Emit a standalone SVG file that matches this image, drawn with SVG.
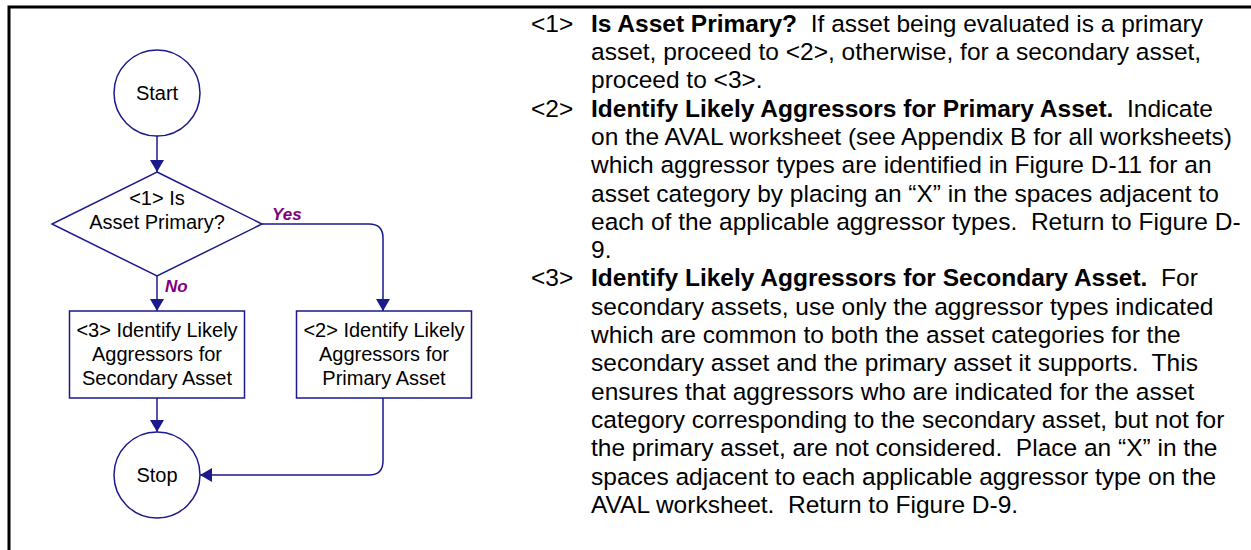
<svg xmlns="http://www.w3.org/2000/svg" width="1251" height="550" viewBox="0 0 1251 550">
<style>
.sh{fill:#fff;stroke:#1a1a8c;stroke-width:1.5}
.ft{font-family:"Liberation Sans",Arial,sans-serif;font-size:20px;fill:#000;text-anchor:middle}
.lb{font-family:"Liberation Sans",Arial,sans-serif;font-size:17px;font-weight:bold;font-style:italic;fill:#800080}
.cn{fill:none;stroke:#1a1a8c;stroke-width:1.5}
.rt{font-family:"Liberation Sans",Arial,sans-serif;font-size:24.5px;fill:#000}
.b{font-weight:bold}
</style>
<defs>
<marker id="ah" markerUnits="userSpaceOnUse" markerWidth="13" markerHeight="14" refX="12" refY="7" orient="auto">
<path d="M0,0 L12,7 L0,14 z" fill="#1a1a8c"/>
</marker>
</defs>
<path d="M9,551 V7 H1252" fill="none" stroke="#000" stroke-width="3"/>
<g id="connectors">
<path class="cn" d="M157,136 V172" marker-end="url(#ah)"/>
<path class="cn" d="M157,276 V311" marker-end="url(#ah)"/>
<path class="cn" d="M262,224 H369 Q383,224 383,238 V311" marker-end="url(#ah)"/>
<path class="cn" d="M157,398 V432" marker-end="url(#ah)"/>
<path class="cn" d="M383,398 V461 Q383,475 369,475 H200" marker-end="url(#ah)"/>
<text class="lb" x="272" y="220">Yes</text>
<text class="lb" x="165" y="292">No</text>
</g>
<g id="start">
<circle class="sh" cx="157" cy="93" r="43"/>
<text class="ft" x="157" y="100">Start</text>
</g>
<g id="decision1">
<path class="sh" d="M157,172 L262,224 L157,276 L52,224 z"/>
<text class="ft" x="157" y="205">&lt;1&gt; Is</text>
<text class="ft" x="157" y="229">Asset Primary?</text>
</g>
<g id="step3">
<rect class="sh" x="69.5" y="311" width="175" height="87"/>
<text class="ft" x="157" y="337">&lt;3&gt; Identify Likely</text>
<text class="ft" x="157" y="361">Aggressors for</text>
<text class="ft" x="157" y="385">Secondary Asset</text>
</g>
<g id="step2">
<rect class="sh" x="296.5" y="311" width="175" height="87"/>
<text class="ft" x="384" y="337">&lt;2&gt; Identify Likely</text>
<text class="ft" x="384" y="361">Aggressors for</text>
<text class="ft" x="384" y="385">Primary Asset</text>
</g>
<g id="stop">
<circle class="sh" cx="157" cy="475" r="43"/>
<text class="ft" x="157" y="482">Stop</text>
</g>
<g id="notes" class="rt">
<text x="531" y="31.7">&lt;1&gt;</text>
<text x="591" y="31.7" xml:space="preserve"><tspan class="b">Is Asset Primary?</tspan>  If asset being evaluated is a primary</text>
<text x="591" y="60">asset, proceed to &lt;2&gt;, otherwise, for a secondary asset,</text>
<text x="591" y="88.3">proceed to &lt;3&gt;.</text>
<text x="531" y="116.6">&lt;2&gt;</text>
<text x="591" y="116.6" xml:space="preserve"><tspan class="b">Identify Likely Aggressors for Primary Asset.</tspan>  Indicate</text>
<text x="591" y="144.9">on the AVAL worksheet (see Appendix B for all worksheets)</text>
<text x="591" y="173.2">which aggressor types are identified in Figure D-11 for an</text>
<text x="591" y="201.5">asset category by placing an “X” in the spaces adjacent to</text>
<text x="591" y="229.8" xml:space="preserve">each of the applicable aggressor types.  Return to Figure D-</text>
<text x="591" y="258.1">9.</text>
<text x="531" y="286.4">&lt;3&gt;</text>
<text x="591" y="286.4" xml:space="preserve"><tspan class="b">Identify Likely Aggressors for Secondary Asset.</tspan>  For</text>
<text x="591" y="314.7">secondary assets, use only the aggressor types indicated</text>
<text x="591" y="343">which are common to both the asset categories for the</text>
<text x="591" y="371.3" xml:space="preserve">secondary asset and the primary asset it supports.  This</text>
<text x="591" y="399.6">ensures that aggressors who are indicated for the asset</text>
<text x="591" y="427.9">category corresponding to the secondary asset, but not for</text>
<text x="591" y="456.2" xml:space="preserve">the primary asset, are not considered.  Place an “X” in the</text>
<text x="591" y="484.5">spaces adjacent to each applicable aggressor type on the</text>
<text x="591" y="512.8" xml:space="preserve">AVAL worksheet.  Return to Figure D-9.</text>
</g>
</svg>
